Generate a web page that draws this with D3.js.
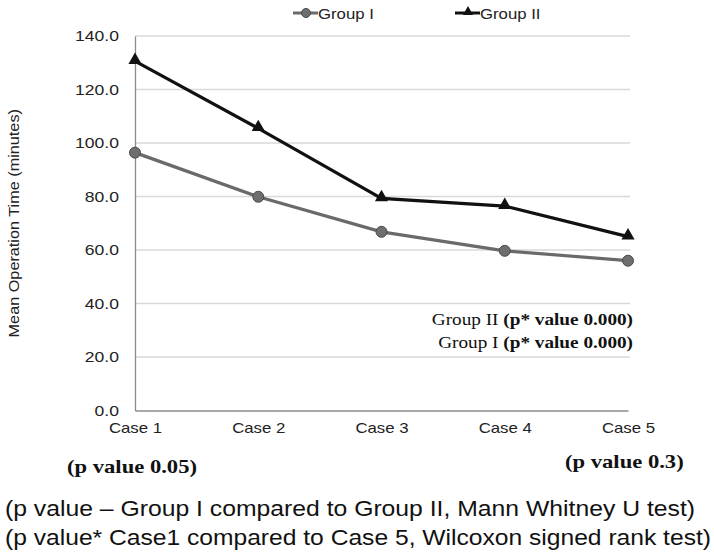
<!DOCTYPE html>
<html>
<head>
<meta charset="utf-8">
<script src="https://cdn.jsdelivr.net/npm/d3@7"></script>
<style>
  body { margin: 0; background: #fff; }
  svg { display: block; }
</style>
</head>
<body>
<svg id="chart" width="714" height="557"></svg>
<script>
// data
const cases = ["Case 1", "Case 2", "Case 3", "Case 4", "Case 5"];
const groupI = [96.4, 79.9, 66.8, 59.7, 56.0];
const groupII = [130.6, 105.5, 79.3, 76.4, 65.0];
const yTicks = [0, 20, 40, 60, 80, 100, 120, 140];
const seriesNames = ["Group I", "Group II"];

const svg = d3.select("#chart");
const sans = "'Liberation Sans', Arial, sans-serif";
const serif = "'Liberation Serif', 'Times New Roman', serif";

// the scan is wider than tall, so text is stretched sideways
function stretch(sel, k) {
    sel.each(function () {
        const w = this.getComputedTextLength();
        d3.select(this).attr("textLength", w * k).attr("lengthAdjust", "spacingAndGlyphs");
    });
}

const x = d3.scalePoint().domain(cases).range([135, 628]);
const y = d3.scaleLinear().domain([0, 140]).range([410.5, 36]);

// gridlines
svg.append("g")
    .selectAll("line")
    .data(yTicks.filter(d => d > 0))
    .join("line")
    .attr("x1", 135).attr("x2", 630)
    .attr("y1", d => y(d)).attr("y2", d => y(d))
    .attr("stroke", "#d9d9d9")
    .attr("stroke-width", 1.3);

// y axis
const yAxis = svg.append("g")
    .attr("transform", "translate(135,0)")
    .call(d3.axisLeft(y).tickValues(yTicks).tickFormat(d3.format(".1f")).tickSize(0).tickPadding(16));
yAxis.select(".domain").attr("stroke", "#8c8c8c").attr("stroke-width", 1.3);
yAxis.selectAll("text")
    .attr("font-family", sans)
    .attr("font-size", 15)
    .attr("fill", "#222")
    .call(stretch, 1.17);

// x axis
const xAxis = svg.append("g")
    .attr("transform", `translate(0,${y(0)})`)
    .call(d3.axisBottom(x).tickSize(0).tickPadding(12));
xAxis.select(".domain").attr("stroke", "#8c8c8c").attr("stroke-width", 1.3);
xAxis.selectAll("text")
    .attr("font-family", sans)
    .attr("font-size", 15)
    .attr("fill", "#222")
    .call(stretch, 1.12);

// y axis title
svg.append("text")
    .attr("transform", `translate(19,${(y(0) + y(140)) / 2}) rotate(-90)`)
    .attr("text-anchor", "middle")
    .attr("font-family", sans)
    .attr("font-size", 14.5)
    .attr("fill", "#222")
    .text("Mean Operation Time (minutes)")
    .call(stretch, 1.12);

// lines
const line = d3.line().x((d, i) => x(cases[i])).y(d => y(d));

svg.append("path")
    .datum(groupI)
    .attr("fill", "none")
    .attr("stroke", "#6a6a6a")
    .attr("stroke-width", 3.2)
    .attr("d", line);

svg.append("path")
    .datum(groupII)
    .attr("fill", "none")
    .attr("stroke", "#111")
    .attr("stroke-width", 3.2)
    .attr("d", line);

const tri = d3.symbol().type(d3.symbolTriangle).size(75);

svg.append("g")
    .selectAll("circle")
    .data(groupI)
    .join("circle")
    .attr("cx", (d, i) => x(cases[i]))
    .attr("cy", d => y(d))
    .attr("r", 5.5)
    .attr("fill", "#6e6e6e")
    .attr("stroke", "#4a4a4a")
    .attr("stroke-width", 1);

svg.append("g")
    .selectAll("path")
    .data(groupII)
    .join("path")
    .attr("transform", (d, i) => `translate(${x(cases[i])},${y(d) - 1})`)
    .attr("d", tri)
    .attr("fill", "#111");

// legend
const legend = svg.append("g").attr("font-family", sans).attr("font-size", 15.5).attr("fill", "#222");
const legendX = [293, 455];
seriesNames.forEach((name, i) => {
    const g = legend.append("g").attr("transform", `translate(${legendX[i]},13)`);
    g.append("line")
        .attr("x1", 0).attr("x2", 25)
        .attr("stroke", i === 0 ? "#6a6a6a" : "#111")
        .attr("stroke-width", 3);
    if (i === 0) {
        g.append("circle").attr("cx", 13).attr("r", 4.5).attr("fill", "#6e6e6e").attr("stroke", "#4a4a4a");
    } else {
        g.append("path").attr("transform", "translate(13,-1)").attr("d", d3.symbol().type(d3.symbolTriangle).size(45)).attr("fill", "#111");
    }
    g.append("text").attr("x", 25).attr("dy", "0.36em").text(name).call(stretch, 1.08);
});

// p* annotations inside the plot
const pStar = [["Group II ", "(p* value 0.000)", 325], ["Group I ", "(p* value 0.000)", 348]];
pStar.forEach(([grp, val, yy]) => {
    const t = svg.append("text")
        .attr("x", 633).attr("y", yy)
        .attr("text-anchor", "end")
        .attr("font-family", serif)
        .attr("font-size", 17)
        .attr("fill", "#111");
    t.append("tspan").text(grp);
    t.append("tspan").attr("font-weight", "bold").text(val);
    t.call(stretch, 1.13);
});

// p values under case 1 and case 5
svg.append("text")
    .attr("x", 67).attr("y", 473)
    .attr("font-family", serif).attr("font-weight", "bold")
    .attr("font-size", 19).attr("fill", "#111")
    .text("(p value 0.05)")
    .call(stretch, 1.19);

svg.append("text")
    .attr("x", 565).attr("y", 468)
    .attr("font-family", serif).attr("font-weight", "bold")
    .attr("font-size", 19).attr("fill", "#111")
    .text("(p value 0.3)")
    .call(stretch, 1.19);

// footnotes
const notes = [
    ["(p value \u2013 Group I compared to Group II, Mann Whitney U test)", 516, 690],
    ["(p value* Case1 compared to Case 5, Wilcoxon signed rank test)", 545, 706]
];
notes.forEach(([txt, yy, w]) => {
    svg.append("text")
        .attr("x", 5).attr("y", yy)
        .attr("font-family", sans)
        .attr("font-size", 22)
        .attr("fill", "#111")
        .attr("textLength", w)
        .attr("lengthAdjust", "spacingAndGlyphs")
        .text(txt);
});
</script>
</body>
</html>
